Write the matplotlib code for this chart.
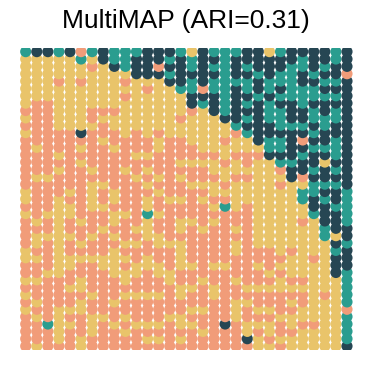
import numpy as np
import matplotlib
matplotlib.use("Agg")
import matplotlib.pyplot as plt

# cluster labels per spot, one string per grid row (top row first)
# T = teal, D = dark, Y = yellow, S = salmon
grid_rows = [
    "TDDTDSTDTTTDDDTYDTTTDDYTDDDDTD",
    "YYYYYTYDTTDDDTDTDDTDDDDDDTDDTD",
    "YYYYYYSYDTDDSDDTDTTDTDDDTTDTDD",
    "YYYYYYYYYYDDDTDDDDTDDTDTTDTDDS",
    "YYYSYSYYYSYYYDDTDTTTTDTTTDDTTD",
    "YYYYYYYYYYYSYYTTSTTDTDTDTTTDDD",
    "YYYYYYYYYSYYYYYDDDTDDTDTTTTTTD",
    "YSSYYYYYYYYYYYYDTDTDTDTDDTDDDD",
    "SSSYYYSSSYYYYYYSYDTDDDTTDDTDTD",
    "YSSYYYSYYYYYYYSYYYDDTDTTDDTTTD",
    "SSSYYYYSYYYYYYYYYYYTDDDTTTDTDD",
    "YSSSSDSSSYSYSYYYYYYSTDDDDDTDDD",
    "SSSSSSSYSSSSYSSYYYSYYDTTDSDDTD",
    "SYSSSYSSYSSSYSSSYYYYYYTTDDTTTD",
    "SSSYSSSSSSYYSSSSSSYSSSDDDTDDTD",
    "SSSSSYSSSSSSSSYYYYSYSYYTTDDYDD",
    "SSSYSSYSSYSYSSSSSYYYYYYSDDTDTD",
    "SYYSSSSSSSYSYSYSSSYSSYYYDSDDDD",
    "SSSSSSYYSSSYSSSYYYSYYYYSYYTTTD",
    "YSSSYSYSYSSSYSSSSYYYYYYYYTTDDT",
    "YSSYSSYSYSSYSYYSYSSYYYYYYTDTDT",
    "SSSYYSYYSSSYSSSSSYTYSYYYYYDDTT",
    "YSYYYSSSYYSTYSSSSSSSSYYYYYTDDT",
    "SYSYSYSSYSSYSSYYSYSSSYYYYSYDDT",
    "SSSYSSSYSSYYSSYSYSSYSYYYYYYTDD",
    "SYYYYSYSYSSYYSSSSSSSSYYYYYYTYD",
    "SYSYSYSSSYYSYYYSSSSYSYYYYYYYDT",
    "YSSYSSSSYSSSSSYSSSSYSSSYSYYYTD",
    "YYSYYYYYYYSYSSYSSSSSSSSSYYSYDD",
    "SSSYYSSYYSYYYSYYSYYSSYSYYYYYDD",
    "SSYYSSSSYYYSYYSSSSSSSSYSYYYYDT",
    "YYSSSYSSSYSSSYSSYSSYSSSYSSYYYT",
    "SSSSYYSSSSSSSSYYSYSSYYYYYYYYYT",
    "YSSSSSYSSYYYYSYSSYSSSSSSSSYSYT",
    "SYSSSYSSYSSSSSSSSSSYYSSSYSYYYT",
    "YSSYYYSSSSSSSSSYYSSYSYYSSYYYYS",
    "SYSYSSYYSYSSSYYSSSSYSSSYYYYYYT",
    "SSTYYSYSYSYYYSYYSSDSYYYSYSSYYT",
    "SSSYSSYSSYSSSSSSYSSSYSYSSYYYYT",
    "SSSYSYSSSSSYYSYSSSSSDYSYYYYYYT",
    "SYSSSYSSSSSSSSSSSSSSSYYSYYYYYD",
]

palette = {
    "T": "#2A9D8F",
    "D": "#264653",
    "Y": "#E9C46A",
    "S": "#F19C79",
}

title = "MultiMAP (ARI=0.31)"

n_rows = len(grid_rows)
n_cols = len(grid_rows[0])

xs, ys, cs = [], [], []
# bottom rows first so upper rows sit on top
for r in range(n_rows - 1, -1, -1):
    for c, lab in enumerate(grid_rows[r]):
        xs.append(c)
        ys.append(r)
        cs.append(palette[lab])

fig = plt.figure(figsize=(3.72, 3.72), dpi=100)
ax = fig.add_axes([0.0542, 0.0597, 0.8935, 0.8113])
ax.scatter(xs, ys, c=cs, s=64, linewidths=0)
ax.set_xlim(-0.5, n_cols - 0.5)
ax.set_ylim(n_rows - 0.5, -0.5)
ax.axis("off")

fig.text(0.5, 1 - 21 / 372, title, ha="center", va="center",
         fontsize=19, family=["Liberation Sans", "DejaVu Sans"])

fig.savefig("out.png", dpi=100)
